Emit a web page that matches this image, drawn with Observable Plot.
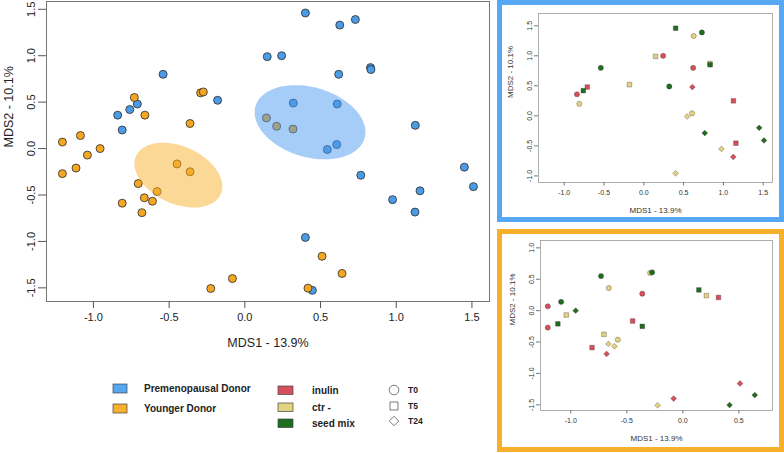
<!DOCTYPE html>
<html><head><meta charset="utf-8">
<script src="https://cdn.jsdelivr.net/npm/d3@7"></script>
<script src="https://cdn.jsdelivr.net/npm/@observablehq/plot@0.6"></script>
<style>
body{margin:0;background:#fff;font-family:"Liberation Sans",Arial,sans-serif;}
#page{position:relative;width:784px;height:453px;overflow:hidden;background:#fff;}
.abs{position:absolute;}
.box{position:absolute;box-sizing:border-box;border:5px solid;pointer-events:none;}
svg{overflow:visible;}
</style></head><body><div id="page"></div>
<script>
// ---------- data ----------
const donors = ["Premenopausal Donor", "Younger Donor"];
const treatments = ["inulin", "ctr -", "seed mix"];
const times = ["T0", "T5", "T24"];
const xTitle = "MDS1 - 13.9%";
const yTitle = "MDS2 - 10.1%";

// Premenopausal donor samples
const preX = [0.40, 0.73, 0.627, 0.148, 0.243, -0.54, 0.62, 0.83, 0.833, -0.18, 0.32, 0.61, -0.71, -0.76, -0.84, -0.81, 1.126, 0.545, 0.607, 1.45, 1.51, 0.766, 1.157, 0.976, 1.124, 0.40, 0.446];
const preY = [1.46, 1.39, 1.33, 0.99, 1.00, 0.80, 0.80, 0.872, 0.851, 0.52, 0.49, 0.48, 0.48, 0.42, 0.36, 0.20, 0.25, -0.01, 0.043, -0.20, -0.41, -0.287, -0.455, -0.55, -0.684, -0.957, -1.527];
const preTreat = ["seed mix","seed mix","ctr -","ctr -","inulin","seed mix","inulin","ctr -","seed mix","ctr -","seed mix","inulin","inulin","seed mix","inulin","ctr -","inulin","ctr -","ctr -","seed mix","seed mix","seed mix","inulin","ctr -","inulin","ctr -","inulin"];
const preTime = ["T5","T0","T0","T5","T0","T0","T0","T5","T5","T5","T0","T24","T5","T5","T0","T0","T5","T24","T0","T24","T24","T24","T5","T24","T24","T24","T24"];

// Younger donor samples
const youX = [-0.73, -0.66, -0.292, -0.274, -0.362, 0.143, 0.21, 0.318, -1.205, -1.086, -0.956, -1.04, -1.115, -1.205, -0.448, -0.362, -0.704, -0.58, -0.664, -0.61, -0.81, -0.68, 0.51, 0.642, 0.417, -0.082, -0.225];
const youY = [0.55, 0.36, 0.60, 0.61, 0.27, 0.33, 0.24, 0.21, 0.07, 0.14, 0.0, -0.07, -0.21, -0.27, -0.165, -0.25, -0.377, -0.463, -0.53, -0.567, -0.588, -0.69, -1.16, -1.345, -1.503, -1.40, -1.507];
const youTreat = ["seed mix","ctr -","ctr -","seed mix","inulin","seed mix","ctr -","inulin","inulin","seed mix","seed mix","ctr -","seed mix","inulin","inulin","seed mix","ctr -","ctr -","ctr -","ctr -","inulin","inulin","inulin","seed mix","seed mix","inulin","ctr -"];
const youTime = ["T0","T0","T0","T0","T0","T5","T5","T5","T0","T0","T24","T5","T5","T0","T5","T5","T5","T0","T24","T24","T5","T24","T24","T24","T24","T24","T24"];

const mainXTicks = [-1.0, -0.5, 0.0, 0.5, 1.0, 1.5];
const mainYTicks = [-1.5, -1.0, -0.5, 0.0, 0.5, 1.0, 1.5];
const in1XTicks = [-1.0, -0.5, 0.0, 0.5, 1.0, 1.5];
const in1YTicks = [-1.0, -0.5, 0.0, 0.5, 1.0, 1.5];
const in2XTicks = [-1.0, -0.5, 0.0, 0.5];
const in2YTicks = [-1.5, -1.0, -0.5, 0.0, 0.5, 1.0];

// ---------- styles ----------
const donorColors = ["#4b9be6", "#f5a623"];
const ellipseColors = ["#4d9cf0", "#f9b22e"];
const legendDonorColors = ["#57a6f0", "#f7b02e"];
const treatColors = ["#d64f5c", "#e3d27f", "#1d6e1f"];
const symbols = ["circle", "square", "diamond2"];
const ELLIPSE_K = 2.8;
const fmt = d => d.toFixed(1);

const rows = (xs, ys, tr, tm, donor) => xs.map((x, i) => ({x, y: ys[i], treat: tr[i], time: tm[i], donor}));
const pre = rows(preX, preY, preTreat, preTime, donors[0]);
const you = rows(youX, youY, youTreat, youTime, donors[1]);
const all = pre.concat(you);

function seEllipse(data, k, donor, n = 160) {
  const N = data.length;
  const mx = d3.mean(data, d => d.x), my = d3.mean(data, d => d.y);
  let sxx = 0, syy = 0, sxy = 0;
  for (const d of data) { const dx = d.x - mx, dy = d.y - my; sxx += dx*dx; syy += dy*dy; sxy += dx*dy; }
  const den = (N - 1) * N;
  sxx /= den; syy /= den; sxy /= den;
  const a = Math.sqrt(sxx), b = sxy / a, c = Math.sqrt(syy - b*b);
  return d3.range(n + 1).map(i => {
    const t = 2 * Math.PI * i / n, u = Math.cos(t), v = Math.sin(t);
    return {x: mx + k*a*u, y: my + k*(b*u + c*v), donor};
  });
}
const ellipses = seEllipse(pre, ELLIPSE_K, donors[0]).concat(seEllipse(you, ELLIPSE_K, donors[1]));

const page = document.getElementById("page");
function place(node, left, top) {
  node.style.position = "absolute"; node.style.left = left + "px"; node.style.top = top + "px";
  node.style.maxWidth = "none";
  page.appendChild(node);
}
const FONT = "Liberation Sans, Arial, sans-serif";

// ---------- main plot ----------
const main = Plot.plot({
  width: 490, height: 360,
  marginLeft: 46, marginRight: 1, marginTop: 1, marginBottom: 59,
  x: {domain: [-1.31, 1.616]},
  y: {domain: [-1.647, 1.584]},
  color: {domain: donors, range: donorColors},
  style: {background: "transparent", fontFamily: FONT, color: "#222"},
  marks: [
    Plot.dot(all, {x: "x", y: "y", fill: "donor", stroke: "#2b2b2b", strokeWidth: 0.8, r: 4}),
    Plot.line(ellipses, {x: "x", y: "y", z: "donor", fill: d => d.donor === donors[0] ? ellipseColors[0] : ellipseColors[1], fillOpacity: 0.5, stroke: null}),
    Plot.frame({stroke: "#777", strokeWidth: 1}),
    Plot.axisX({ticks: mainXTicks, tickSize: 7, tickPadding: 5, fontSize: 11, tickFormat: fmt, label: null, stroke: "#555"}),
    Plot.axisY({ticks: mainYTicks, tickSize: 8, tickPadding: 4, tickRotate: -90, fontSize: 11, tickFormat: fmt, label: null, stroke: "#555"}),
    Plot.text([xTitle], {frameAnchor: "bottom", dy: 45, fontSize: 12.5, fill: "#222"}),
    Plot.text([yTitle], {frameAnchor: "left", dx: -38, dy: -4, rotate: -90, fontSize: 12.5, fill: "#222"})
  ]
});
place(main, 0, 0);

// ---------- insets ----------
function inset(data, opts) {
  return Plot.plot({
    width: opts.width, height: opts.height,
    marginLeft: opts.ml, marginRight: opts.mr, marginTop: opts.mt, marginBottom: opts.mb,
    x: {domain: opts.xd}, y: {domain: opts.yd},
    color: {domain: treatments, range: treatColors},
    symbol: {domain: times, range: symbols},
    style: {background: "transparent", fontFamily: FONT, color: "#333"},
    marks: [
      Plot.dot(data, {x: "x", y: "y", fill: "treat", symbol: "time", r: 2.6, stroke: "#3a2a2a", strokeOpacity: 0.55, strokeWidth: 0.6, clip: true}),
      Plot.frame({stroke: "#999", strokeWidth: 0.8}),
      Plot.axisX({ticks: opts.xt, tickSize: 3.5, tickPadding: 4, fontSize: 7, tickFormat: fmt, label: null, stroke: "#777"}),
      Plot.axisY({ticks: opts.yt, tickSize: 4, tickPadding: 2.5, tickRotate: -90, fontSize: 7, tickFormat: fmt, label: null, stroke: "#777"}),
      Plot.text([xTitle], {frameAnchor: "bottom", dy: 30, fontSize: 8, fill: "#333"}),
      Plot.text([yTitle], {frameAnchor: "left", dx: -28, rotate: -90, fontSize: 8, fill: "#333"})
    ]
  });
}
const in1 = inset(pre, {width: 287, height: 222, ml: 41, mr: 12, mt: 13, mb: 40, xd: [-1.323, 1.617], yd: [-1.11, 1.705], xt: in1XTicks, yt: in1YTicks});
place(in1, 497, 0);
const in2 = inset(you, {width: 287, height: 223, ml: 43, mr: 12, mt: 11, mb: 42, xd: [-1.27, 0.80], yd: [-1.59, 1.117], xt: in2XTicks, yt: in2YTicks});
place(in2, 497, 229);

const b1 = document.createElement("div"); b1.className = "box";
Object.assign(b1.style, {left: "497px", top: "0px", width: "287px", height: "222px", borderColor: "#56a8f5"});
page.appendChild(b1);
const b2 = document.createElement("div"); b2.className = "box";
Object.assign(b2.style, {left: "497px", top: "229px", width: "287px", height: "223px", borderColor: "#f8b02b"});
page.appendChild(b2);

// ---------- legend ----------
const LT = 370;
const leg = d3.create("svg").attr("width", 490).attr("height", 80)
  .style("font-family", FONT).style("font-weight", "bold").attr("fill", "#222");
const dY = [384, 404];
donors.forEach((d, i) => {
  leg.append("rect").attr("x", 113).attr("y", dY[i] - LT).attr("width", 14).attr("height", 9)
    .attr("fill", legendDonorColors[i]).attr("stroke", "#444").attr("stroke-width", 0.7);
  leg.append("text").attr("x", 144).attr("y", dY[i] + 4.5 - LT).attr("dy", "0.35em").attr("font-size", 10).text(d);
});
const tY = [386, 403, 419];
treatments.forEach((t, i) => {
  leg.append("rect").attr("x", 278).attr("y", tY[i] - LT).attr("width", 15).attr("height", 8.5)
    .attr("fill", treatColors[i]).attr("stroke", "#444").attr("stroke-width", 0.7);
  leg.append("text").attr("x", 312).attr("y", tY[i] + 4.5 - LT).attr("dy", "0.35em").attr("font-size", 10).text(t);
});
const sY = [390, 406, 421];
const symPaths = [d3.symbol(d3.symbolCircle, 72)(), d3.symbol(d3.symbolSquare, 64)(), d3.symbol(d3.symbolDiamond2, 58)()];
times.forEach((t, i) => {
  leg.append("path").attr("d", symPaths[i]).attr("transform", `translate(394,${sY[i] - LT})`)
    .attr("fill", "#fff").attr("stroke", "#444").attr("stroke-width", 0.7);
  leg.append("text").attr("x", 408).attr("y", sY[i] - LT).attr("dy", "0.35em").attr("font-size", 8.5).text(t);
});
place(leg.node(), 0, LT);
</script></body></html>
